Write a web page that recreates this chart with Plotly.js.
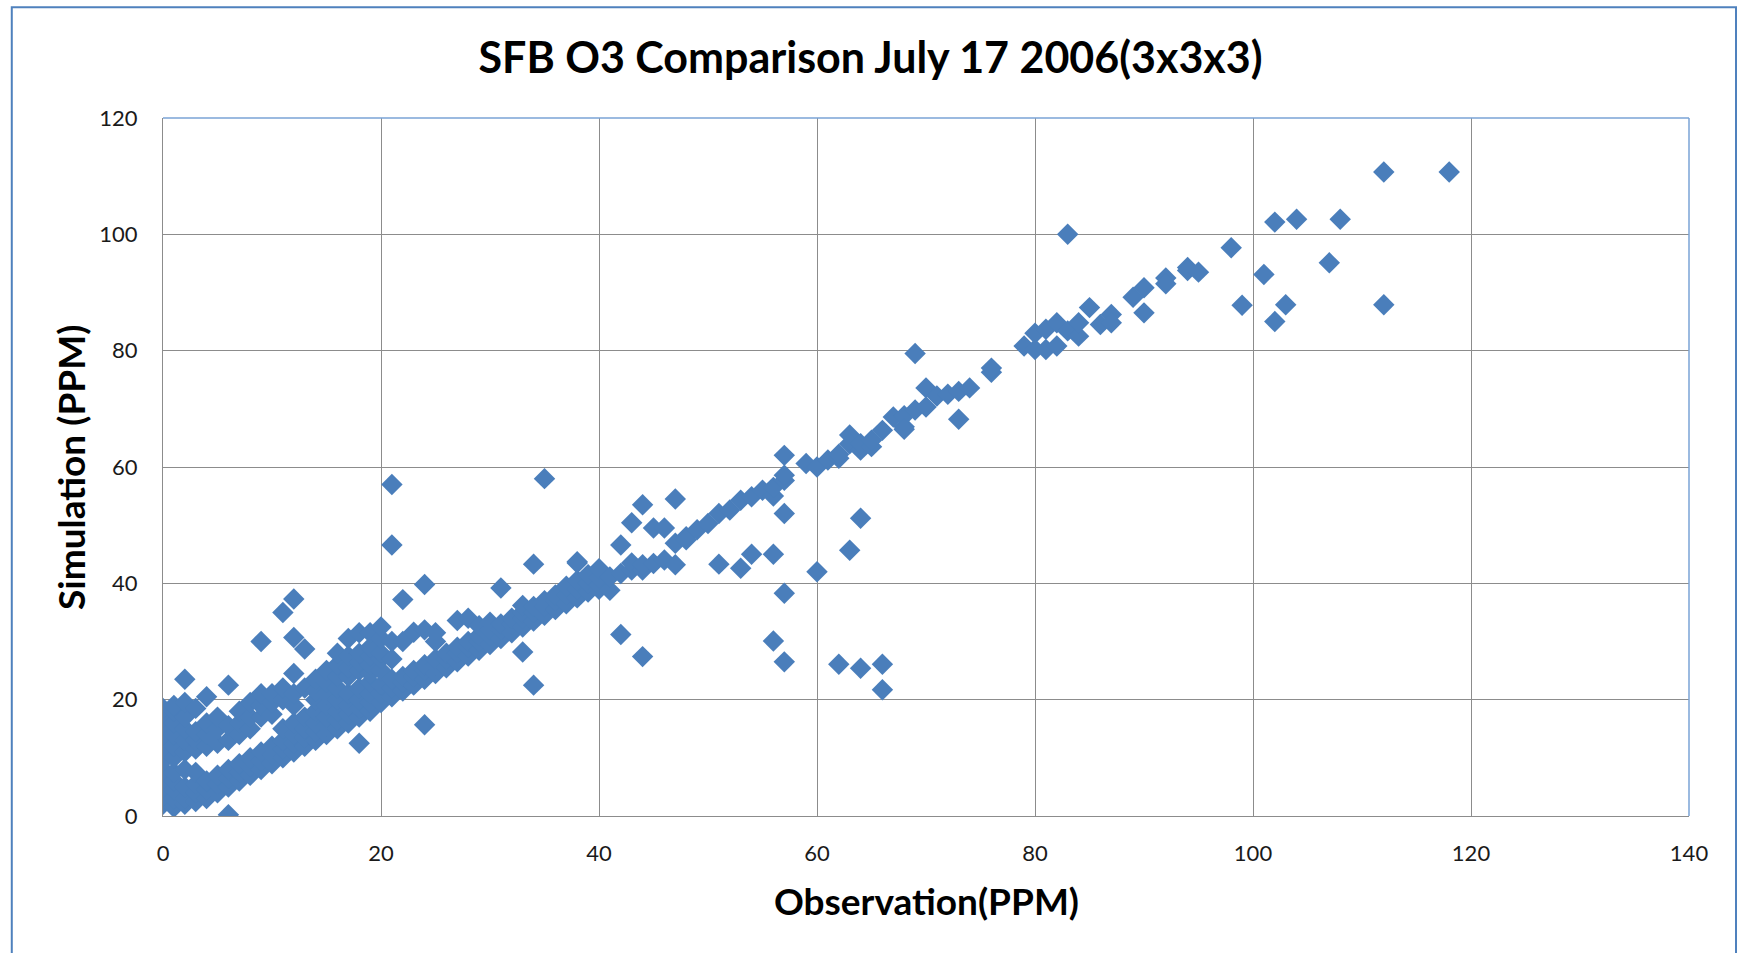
<!DOCTYPE html>
<html>
<head>
<meta charset="utf-8">
<script src="https://cdn.plot.ly/plotly-3.0.1.min.js"></script>
<style>
html,body{margin:0;padding:0;background:#fff;}
#chart{width:1741px;height:953px;}
</style>
</head>
<body>
<div id="chart"></div>
<script>
// Observation (x) and Simulation (y) values in PPM.
// Low range (observation 0..40)
const obsLow = [
  0,0,0,0,0,0,0,0,0,0,0,0,
  1,1,1,1,1,1,1,1,1,1,1,
  2,2,2,2,2,2,2,2,2,2,
  3,3,3,3,3,3,3,3,
  4,4,4,4,4,4,4,
  5,5,5,5,5,5,
  6,6,6,6,6,6,6,
  7,7,7,7,7,7,
  8,8,8,8,8,8,
  9,9,9,9,9,9,9,
  10,10,10,10,10,10,
  11,11,11,11,11,11,11,
  12,12,12,12,12,12,12,12,12,
  13,13,13,13,13,13,
  14,14,14,14,14,14,14,
  15,15,15,15,15,15,15,
  16,16,16,16,16,16,16,16,
  17,17,17,17,17,17,17,17,
  18,18,18,18,18,18,18,18,18,
  19,19,19,19,19,19,19,19,19,
  20,20,20,20,20,20,20,20,
  21,21,21,21,21,21,21,
  22,22,22,22,22,
  23,23,23,23,
  24,24,24,24,24,24,
  25,25,25,25,25,
  26,26,26,
  27,27,27,27,
  28,28,28,28,
  29,29,29,29,
  30,30,30,30,
  31,31,31,31,
  32,32,32,
  33,33,33,33,33,
  34,34,34,34,34,
  35,35,35,35,
  36,36,36,
  37,37,37,
  38,38,38,38,38,
  39,39,39,
  40,40,40,40
];
const simLow = [
  2,3.5,5,6.5,8,9.5,11,12.5,14,15.5,17,18.5,
  1.5,3,4.5,6,7.5,10,12,14,16,18,19,
  2,3,5,8,11,13,15,17,19.5,23.5,
  2.5,4,5.5,7.5,11.5,13,14.5,18.5,
  3,4.5,6,12,14,16,20.5,
  4,5.5,7,12.5,15,17,
  0.2,5,6.5,8,13,15.5,22.5,
  6,7.5,9,14,16,18,
  7,8.5,10,15,17,19.5,
  8,9.5,11,17,19,21,30,
  9,10.5,12,17.5,19.5,21,
  10,11.5,13,15,20,22,35,
  11,12.5,14,16,19,21,24.5,30.7,37.3,
  12,13.5,15,17,22,28.7,
  13,14.5,16,18,20,21.5,23.5,
  14,15.5,17,19,21,23,25,
  15,16.5,18,20,22,24,26,28,
  16,17.5,19,21,24,25.5,27.5,30.5,
  12.5,17,18.5,20,22,25,26.5,28,31.5,
  18,19.5,21,23,24.5,26,27.5,29,31.5,
  19.5,21,22.5,25,27,28,30.5,32.5,
  20.5,22,23.5,27,30,46.6,57,
  21.5,23,24,30,37.2,
  22.5,24,25,31.6,
  15.7,23.5,25,26,32,39.8,
  24.5,26,27,30,31.5,
  25.5,27,28,
  26.5,28,29,33.6,
  27.5,29,30,34,
  28.5,30,31,32.7,
  29.5,31,32,33.3,
  30.5,32,33,39.2,
  31.5,33,34,
  28.2,32.5,34,35,36.2,
  22.5,33.5,35,36,43.3,
  34.5,36,37,58,
  35.5,37,38,
  36.5,38,39.5,
  37.5,39,40.5,43.5,43.7,
  38.5,40,41.5,
  39,39.7,41,42.5
];
// Middle range (observation 41..76)
const obsMid = [
  41,41,
  42,42,42,
  43,43,43,
  44,44,44,44,
  45,45,
  46,46,
  47,47,47,
  48,48,
  49,
  50,
  51,51,
  52,
  53,53,
  54,54,
  55,
  56,56,56,56,
  57,57,57,57,57,57,
  59,
  60,60,
  61,
  62,62,62,
  63,63,63,
  64,64,64,64,
  65,65,
  66,66,66,
  67,
  68,68,68,
  69,69,
  70,70,
  71,
  72,
  73,73,
  74,
  76,76
];
const simMid = [
  38.8,41.1,
  41.7,46.6,31.2,
  42.3,43.5,50.4,
  42.3,43.2,53.5,27.4,
  43.4,49.5,
  44,49.5,
  43.2,46.9,54.5,
  48,47.5,
  49.2,
  50.3,
  52,43.3,
  52.6,
  42.6,54.3,
  45,54.9,
  56,
  45,30.1,55,56.5,
  57.7,58.6,62,52,38.3,26.5,
  60.6,
  60,42,
  61.2,
  61.5,62.2,26.1,
  65.5,64,45.7,
  62.9,64,51.2,25.4,
  63.5,64.6,
  66.3,26.1,21.7,
  68.6,
  66.9,68.8,66.5,
  69.8,79.5,
  70.3,73.6,
  72.2,
  72.5,
  73,68.2,
  73.6,
  76.3,77
];
// High range (observation 79..118)
const obsHigh = [
  79,
  80,80,
  81,81,
  82,82,
  83,83,
  84,84,
  85,
  86,
  87,87,
  89,
  90,90,
  92,92,
  94,94,
  95,
  98,
  99,
  101,
  102,102,
  103,
  104,
  107,
  108,
  112,112,
  118
];
const simHigh = [
  80.8,
  80.2,83,
  80.2,83.7,
  80.8,84.8,
  83.4,100,
  82.5,84.8,
  87.4,
  84.5,
  86.2,84.8,
  89.2,
  90.8,86.5,
  92.5,91.5,
  94.3,93.8,
  93.5,
  97.7,
  87.8,
  93.1,
  102.1,85,
  87.9,
  102.6,
  95.1,
  102.6,
  110.7,87.9,
  110.7
];
const xTicks = [0,20,40,60,80,100,120,140];
const yTicks = [0,20,40,60,80,100,120];

const observation = obsLow.concat(obsMid, obsHigh);
const simulation = simLow.concat(simMid, simHigh);

const trace = {
  type: 'scatter',
  mode: 'markers',
  x: observation,
  y: simulation,
  marker: {symbol: 'diamond', size: 16.5, color: '#4a7ebb', line: {width: 0}},
  hoverinfo: 'x+y',
  showlegend: false
};

const L = 163.2, R = 1689, T = 117.7, B = 816.1;
const pw = R - L, ph = B - T;
const px = v => (v - L) / pw;
const py = v => (B - v) / ph;

const layout = {
  width: 1741,
  height: 953,
  paper_bgcolor: '#ffffff',
  plot_bgcolor: '#ffffff',
  margin: {l: L, r: 1741 - R, t: T, b: 953 - B, pad: 0},
  title: {
    text: 'SFB O3 Comparison July 17 2006(3x3x3)',
    font: {family: 'Lato, "Open Sans", sans-serif', size: 43, color: '#000000', weight: 'bold'},
    x: 0.5, xanchor: 'center', xref: 'container',
    y: 1 - 58 / 953, yanchor: 'middle', yref: 'container'
  },
  xaxis: {
    range: [0, 140],
    tickvals: xTicks,
    ticktext: xTicks.map(String),
    showgrid: true, gridcolor: '#8c8c8c', gridwidth: 1,
    zeroline: false,
    showline: true, linecolor: '#8c8c8c', linewidth: 1,
    ticks: 'outside', ticklen: 18, tickcolor: 'rgba(0,0,0,0)',
    tickfont: {family: 'Lato, sans-serif', size: 22, color: '#1a1a1a'},
    fixedrange: true
  },
  yaxis: {
    range: [0, 120],
    tickvals: yTicks,
    ticktext: yTicks.map(String),
    showgrid: true, gridcolor: '#8c8c8c', gridwidth: 1,
    zeroline: false,
    showline: true, linecolor: '#8c8c8c', linewidth: 1,
    ticks: 'outside', ticklen: 20, tickcolor: 'rgba(0,0,0,0)',
    tickfont: {family: 'Lato, sans-serif', size: 22, color: '#1a1a1a'},
    fixedrange: true
  },
  annotations: [
    {
      text: 'Observation(PPM)', showarrow: false,
      xref: 'paper', yref: 'paper', x: 0.5, y: py(901), xanchor: 'center', yanchor: 'middle',
      font: {family: 'Lato, sans-serif', size: 37, color: '#000000', weight: 'bold'}
    },
    {
      text: 'Simulation (PPM)', showarrow: false, textangle: -90,
      xref: 'paper', yref: 'paper', x: px(70), y: py(467), xanchor: 'center', yanchor: 'middle',
      font: {family: 'Lato, sans-serif', size: 37, color: '#000000', weight: 'bold'}
    }
  ],
  shapes: [
    {type: 'line', xref: 'paper', yref: 'paper', x0: 0, x1: 1, y0: 1, y1: 1,
     line: {color: '#7aa3d6', width: 1.5}, layer: 'above'},
    {type: 'line', xref: 'paper', yref: 'paper', x0: 1, x1: 1, y0: 0, y1: 1,
     line: {color: '#7aa3d6', width: 1.5}, layer: 'above'},
    {type: 'rect', xref: 'paper', yref: 'paper', x0: px(12), x1: px(1736), y0: py(1000), y1: py(7),
     line: {color: '#4f81bd', width: 2}, fillcolor: 'rgba(0,0,0,0)', layer: 'above'}
  ]
};

Plotly.newPlot('chart', [trace], layout, {displayModeBar: false, staticPlot: true});
</script>
</body>
</html>
